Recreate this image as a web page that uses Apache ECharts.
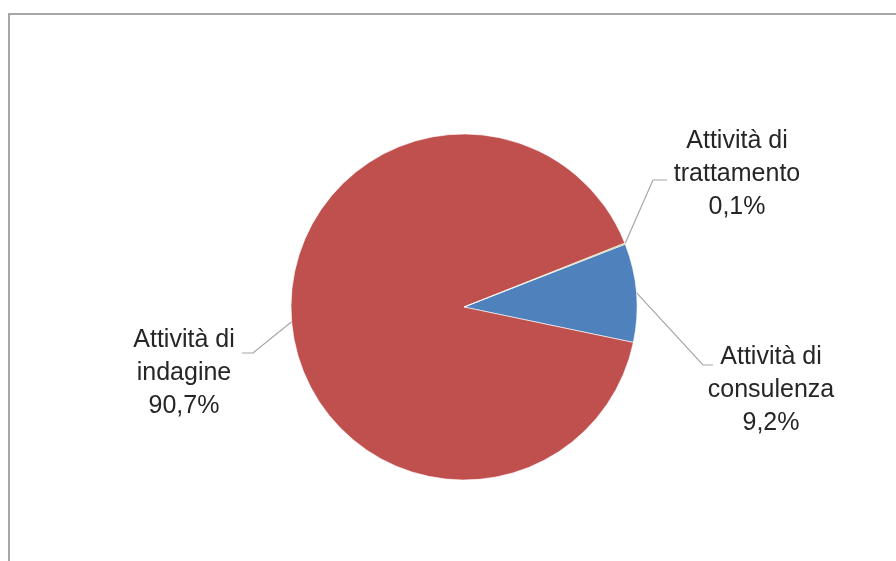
<!DOCTYPE html>
<html>
<head>
<meta charset="utf-8">
<script src="https://cdn.jsdelivr.net/npm/echarts@6/dist/echarts.min.js"></script>
<style>
  html, body { margin: 0; padding: 0; background: #fff; }
  #main { width: 896px; height: 561px; }
</style>
</head>
<body>
<div id="main"></div>
<script>
// dati (percentuali), ordine come in Excel: parte dalle ore ~2 in senso orario
var names = ['Attività di\nconsulenza', 'Attività di\nindagine', 'Attività di\ntrattamento'];
var values = [9.2, 90.7, 0.1];
var colors = ['#4F81BD', '#C0504D', '#9BBB59'];

// posizione etichette: [x, y, dx fine linea, dy fine linea, lunghezza tratto orizzontale]
var labelAt = [
  [771, 390, -58, -25, -10],
  [184, 373, 58, -20, 11],
  [737, 174, -70, 6, -14]
];

var chart = echarts.init(document.getElementById('main'));

var data = [];
for (var i = 0; i < names.length; i++) {
  data.push({ name: names[i], value: values[i], itemStyle: { color: colors[i] } });
}

var option = {
  animation: false,
  backgroundColor: '#fff',
  graphic: [{
    type: 'rect',
    shape: { x: 9, y: 14, width: 1000, height: 1000 },
    style: { fill: 'none', stroke: '#a6a6a6', lineWidth: 2 },
    silent: true
  }],
  series: [{
    type: 'pie',
    center: [464, 307],
    radius: 173,
    startAngle: 21.3,
    clockwise: true,
    minAngle: 0,
    avoidLabelOverlap: false,
    itemStyle: { borderColor: '#fff', borderWidth: 0.6 },
    label: {
      show: true,
      position: 'outside',
      fontFamily: 'Liberation Sans, Arial, sans-serif',
      fontSize: 25,
      lineHeight: 33,
      color: '#262626',
      align: 'center',
      formatter: function (p) {
        return p.name + '\n' + p.value.toFixed(1).replace('.', ',') + '%';
      }
    },
    labelLine: {
      show: true,
      length: 20,
      length2: 10,
      lineStyle: { color: '#a6a6a6', width: 1.2 }
    },
    labelLayout: function (p) {
      var L = labelAt[p.dataIndex];
      var ex = L[0] + L[2], ey = L[1] + L[3];
      var start = p.labelLinePoints ? p.labelLinePoints[0] : null;
      if (!start) {
        // punto medio dello spicchio sul bordo
        var sum = 0, before = 0;
        for (var k = 0; k < values.length; k++) { sum += values[k]; if (k < p.dataIndex) before += values[k]; }
        var a = (21.3 - (before + values[p.dataIndex] / 2) / sum * 360) * Math.PI / 180;
        start = [464 + 173 * Math.cos(a), 307 - 173 * Math.sin(a)];
      }
      return {
        x: L[0],
        y: L[1],
        align: 'center',
        verticalAlign: 'middle',
        labelLinePoints: [start, [ex + L[4], ey], [ex, ey]]
      };
    },
    data: data
  }]
};

chart.setOption(option);
</script>
</body>
</html>
